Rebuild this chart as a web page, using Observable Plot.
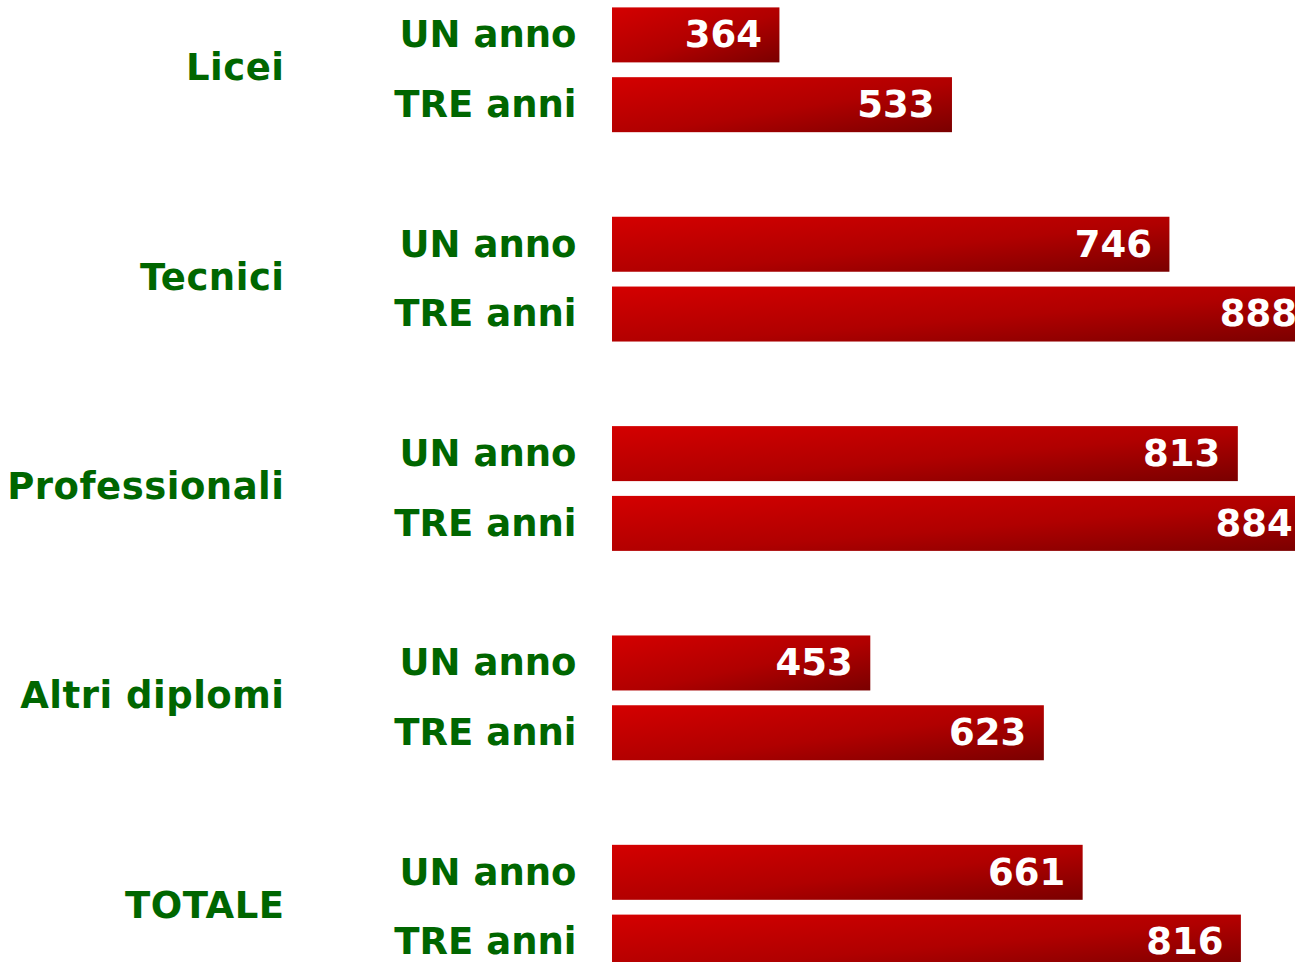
<!DOCTYPE html>
<html>
<head>
<meta charset="utf-8">
<script src="https://cdn.jsdelivr.net/npm/d3@7"></script>
<script src="https://cdn.jsdelivr.net/npm/@observablehq/plot@0.6"></script>
<style>
  html, body { margin: 0; padding: 0; background: #fff; overflow: hidden; }
  svg { display: block; }
</style>
</head>
<body>
<div id="chart"></div>
<script>
const groups = ["Licei", "Tecnici", "Professionali", "Altri diplomi", "TOTALE"];
const periods = ["UN anno", "TRE anni"];
const unAnno = [364, 746, 813, 453, 661];
const treAnni = [533, 888, 884, 623, 816];
const xDomain = [200, 869];

// Build rows and y slots (each group: UN, TRE, gap)
const rows = [];
const slots = [];
groups.forEach((g, i) => {
  const vals = [unAnno[i], treAnni[i]];
  periods.forEach((p, j) => {
    const key = g + "|" + p;
    slots.push(key);
    rows.push({key, group: g, period: p, value: vals[j]});
  });
  if (i < groups.length - 1) slots.push("gap" + i);
});

const subLabel = k => k.startsWith("gap") ? "" : k.split("|")[1];
const groupLabel = k => (!k.startsWith("gap") && k.endsWith("|" + periods[0])) ? k.split("|")[0] : "";

const chart = Plot.plot({
  width: 1295,
  height: 962,
  marginLeft: 612,
  marginRight: 0,
  marginTop: 0,
  marginBottom: 0,
  style: {fontFamily: "'DejaVu Sans', Verdana, sans-serif", background: "#fff"},
  x: {domain: xDomain, axis: null},
  y: {domain: slots, range: [0, 977], paddingInner: 0.212, paddingOuter: 0.106, round: false, axis: null, label: null},
  marks: [
    Plot.barX(rows, {x1: xDomain[0], x2: "value", y: "key", fill: "url(#redgrad)", clip: true}),
    Plot.text(rows, {x: "value", y: "key", text: d => String(d.value), dx: -18, textAnchor: "end",
      fill: "#fff", fontSize: 37, fontWeight: "bold", clip: true}),
    Plot.axisY({anchor: "left", tickSize: 0, tickPadding: 36, tickFormat: subLabel, label: null,
      fill: "#006600", fontSize: 37, fontWeight: "bold"}),
    Plot.axisY({anchor: "left", tickSize: 0, tickPadding: 328, dy: 33, tickFormat: groupLabel, label: null,
      fill: "#006600", fontSize: 37, fontWeight: "bold", className: "grouplabels"})
  ]
});

// gradient definition
const ns = "http://www.w3.org/2000/svg";
const defs = document.createElementNS(ns, "defs");
const grad = document.createElementNS(ns, "linearGradient");
grad.setAttribute("id", "redgrad");
grad.setAttribute("x1", "0"); grad.setAttribute("y1", "0");
grad.setAttribute("x2", "1"); grad.setAttribute("y2", "1");
[["0%", "#d40000"], ["55%", "#b00000"], ["100%", "#7a0000"]].forEach(([o, c]) => {
  const s = document.createElementNS(ns, "stop");
  s.setAttribute("offset", o); s.setAttribute("stop-color", c);
  grad.appendChild(s);
});
defs.appendChild(grad);
chart.insertBefore(defs, chart.firstChild);

// slightly wider tracking for the group labels (Verdana-like)
chart.querySelectorAll(".grouplabels text").forEach(t => t.setAttribute("letter-spacing", "0.5"));

document.getElementById("chart").appendChild(chart);
</script>
</body>
</html>
